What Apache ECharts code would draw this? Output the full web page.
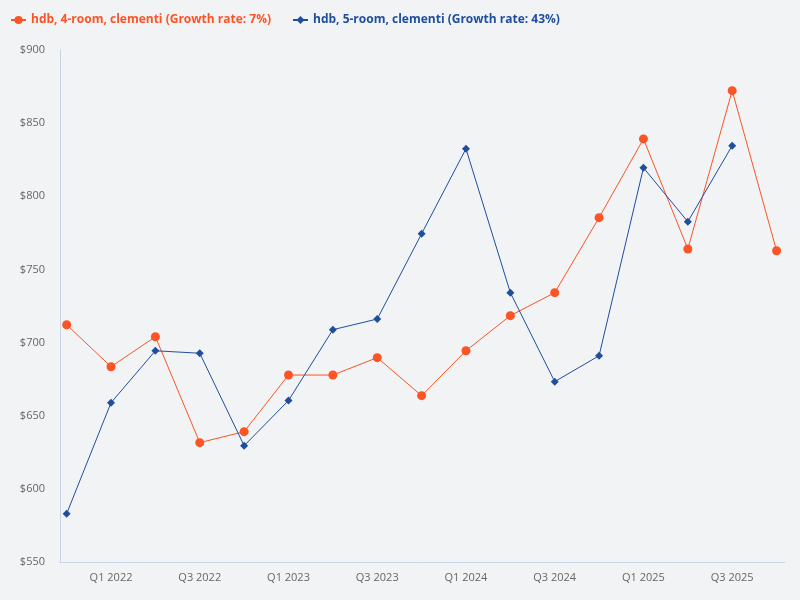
<!DOCTYPE html>
<html>
<head>
<meta charset="utf-8">
<script src="https://cdn.jsdelivr.net/npm/echarts@6/dist/echarts.min.js"></script>
<style>
html,body{margin:0;padding:0;background:#f2f3f5;}
#chart{width:800px;height:600px;}
</style>
</head>
<body>
<div id="chart"></div>
<script>
const categories = ['Q4 2021','Q1 2022','Q2 2022','Q3 2022','Q4 2022','Q1 2023','Q2 2023','Q3 2023','Q4 2023','Q1 2024','Q2 2024','Q3 2024','Q4 2024','Q1 2025','Q2 2025','Q3 2025','Q4 2025'];
const labelIndices = [1,3,5,7,9,11,13,15];
const seriesNames = ['hdb, 4-room, clementi (Growth rate: 7%)','hdb, 5-room, clementi (Growth rate: 43%)'];
const room4 = [712.2,683.5,704.0,631.6,639.1,677.8,677.8,689.7,663.7,694.4,718.4,734.1,785.4,839.2,764.0,872.2,762.8];
const room5 = [583.0,658.9,694.4,692.7,629.5,660.4,708.8,716.1,774.4,832.5,734.1,673.3,691.0,819.5,782.6,834.6];
const yTicks = [550,600,650,700,750,800,850,900];

const toPairs = arr => arr.map((v,i)=>[i,v]);
const chart = echarts.init(document.getElementById('chart'));
chart.setOption({
  backgroundColor:'#f2f3f5',
  animation:false,
  textStyle:{fontFamily:'Open Sans'},
  legend:{
    left:5, top:9,
    itemWidth:15, itemHeight:10, itemGap:21,
    textStyle:{fontSize:12,fontWeight:'bold',fontFamily:'Open Sans'},
    data:[
      {name:seriesNames[0],textStyle:{color:'#fc5424'}},
      {name:seriesNames[1],textStyle:{color:'#1f4e9d'}}
    ]
  },
  grid:{left:60,right:15,top:50,bottom:38,containLabel:false},
  xAxis:{
    type:'value',
    min:-0.15, max:16.19,
    splitLine:{show:false},
    axisLine:{show:true,onZero:false,lineStyle:{color:'#c9d4e8',width:1}},
    axisTick:{show:false},
    axisLabel:{
      customValues:labelIndices,
      formatter:v=>categories[Math.round(v)],
      color:'#666',fontSize:11,margin:10,fontFamily:'Open Sans'
    }
  },
  yAxis:{
    type:'value',
    min:yTicks[0], max:yTicks[yTicks.length-1], interval:50,
    splitLine:{show:false},
    axisLine:{show:true,onZero:false,lineStyle:{color:'#c9d4e8',width:1}},
    axisTick:{show:false},
    axisLabel:{formatter:v=>'$'+v,color:'#666',fontSize:11,margin:15,fontFamily:'Open Sans'}
  },
  series:[
    {
      name:seriesNames[0],type:'line',data:toPairs(room4),
      symbol:'circle',symbolSize:9,
      itemStyle:{color:'#fc5424'},
      lineStyle:{width:1,color:'#fc5424'}
    },
    {
      name:seriesNames[1],type:'line',data:toPairs(room5),
      symbol:'diamond',symbolSize:8,
      itemStyle:{color:'#1f4e9d'},
      lineStyle:{width:1,color:'#1f4e9d'}
    }
  ]
});
</script>
</body>
</html>
